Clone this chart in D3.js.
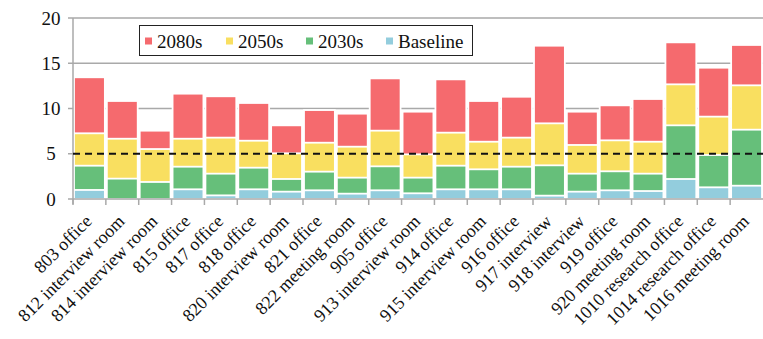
<!DOCTYPE html>
<html>
<head>
<meta charset="utf-8">
<script src="https://cdn.jsdelivr.net/npm/d3@7"></script>
<style>
  html, body { margin: 0; padding: 0; background: #fff; }
  svg { display: block; }
  text { font-family: "Liberation Serif", "Times New Roman", serif; fill: #111; }
</style>
</head>
<body>
<svg id="chart" width="763" height="339"></svg>
<script>
// Rooms along the x axis
const rooms = [
  "803 office", "812 interview room", "814 interview room", "815 office",
  "817 office", "818 office", "820 interview room", "821 office",
  "822 meeting room", "905 office", "913 interview room", "914 office",
  "915 interview room", "916 office", "917 interview", "918 interview",
  "919 office", "920 meeting room", "1010 research office",
  "1014 research office", "1016 meeting room"
];

// Value per room for each climate period
const baseline = [1.0, 0.0, 0.0, 1.07, 0.4, 1.07, 0.81, 0.96, 0.59, 0.96, 0.63,
                  1.07, 1.07, 1.07, 0.37, 0.81, 0.96, 0.88, 2.21, 1.29, 1.47];
const s2030 = [3.68, 2.25, 1.88, 3.57, 2.8, 3.46, 2.21, 3.02, 2.36, 3.61, 2.36,
               3.68, 3.28, 3.57, 3.72, 2.8, 3.06, 2.8, 8.14, 4.86, 7.66];
const s2050 = [7.26, 6.66, 5.52, 6.66, 6.78, 6.44, 5.05, 6.22, 5.78, 7.55, 4.93,
               7.33, 6.33, 6.78, 8.36, 5.97, 6.48, 6.33, 12.67, 9.1, 12.56];
const s2080 = [13.45, 10.83, 7.55, 11.64, 11.35, 10.61, 8.14, 9.83, 9.43, 13.33, 9.65,
               13.22, 10.83, 11.3, 16.94, 9.65, 10.35, 11.05, 17.31, 14.51, 17.02];

const yTicks = [0, 5, 10, 15, 20];
const threshold = 5;

// Series drawn back to front; legend lists them in the same order
const series = [
  { name: "2080s", values: s2080, color: "#f56a6e" },
  { name: "2050s", values: s2050, color: "#f9df60" },
  { name: "2030s", values: s2030, color: "#66bf7a" },
  { name: "Baseline", values: baseline, color: "#93cddd" }
];

const svg = d3.select("#chart");
const plotLeft = 73, plotRight = 763, plotTop = 18, plotBottom = 199;

const x = d3.scaleBand().domain(rooms).range([plotLeft, plotRight]).paddingInner(0).paddingOuter(0);
const y = d3.scaleLinear().domain([0, 20]).range([plotBottom, plotTop]);

// Horizontal gridlines
svg.append("g").selectAll("line")
  .data(yTicks.filter(t => t > 0))
  .join("line")
  .attr("x1", plotLeft).attr("x2", plotRight)
  .attr("y1", d => y(d)).attr("y2", d => y(d))
  .attr("stroke", "#a9a9a9").attr("stroke-width", 1.5);

// Bars: each period drawn from zero, later periods in front
const inset = 1;
series.forEach(s => {
  svg.append("g").selectAll("rect")
    .data(rooms.map((r, i) => ({ room: r, v: s.values[i] })))
    .join("rect")
    .attr("x", d => x(d.room) + inset)
    .attr("width", x.bandwidth() - inset * 2)
    .attr("y", d => y(d.v))
    .attr("height", d => Math.max(0, y(0) - y(d.v)))
    .attr("fill", s.color)
    .attr("stroke", "#fff")
    .attr("stroke-width", 1.8);
});

// Y axis
const yAxis = svg.append("g");
yAxis.append("line")
  .attr("x1", plotLeft).attr("x2", plotLeft).attr("y1", plotTop).attr("y2", plotBottom + 5)
  .attr("stroke", "#a9a9a9").attr("stroke-width", 1.5);
yAxis.selectAll("line.tick")
  .data(yTicks).join("line").attr("class", "tick")
  .attr("x1", plotLeft - 5).attr("x2", plotLeft)
  .attr("y1", d => y(d)).attr("y2", d => y(d))
  .attr("stroke", "#a9a9a9").attr("stroke-width", 1.5);
yAxis.selectAll("text")
  .data(yTicks).join("text")
  .attr("x", 51).attr("y", d => y(d))
  .attr("dy", "0.35em")
  .attr("text-anchor", "middle")
  .attr("font-size", 19)
  .text(d => d);

// X axis
const xAxis = svg.append("g");
xAxis.append("line")
  .attr("x1", plotLeft).attr("x2", plotRight).attr("y1", plotBottom).attr("y2", plotBottom)
  .attr("stroke", "#a9a9a9").attr("stroke-width", 1.5);
xAxis.selectAll("line.tick")
  .data(rooms).join("line").attr("class", "tick")
  .attr("x1", d => x(d)).attr("x2", d => x(d))
  .attr("y1", plotBottom).attr("y2", plotBottom + 6)
  .attr("stroke", "#a9a9a9").attr("stroke-width", 1.5);
xAxis.selectAll("text")
  .data(rooms).join("text")
  .attr("transform", d => `translate(${x(d) + x.bandwidth() / 2 - 1},${plotBottom + 19}) rotate(-45)`)
  .attr("text-anchor", "end")
  .attr("dy", "0.35em")
  .attr("font-size", 18)
  .text(d => d);

// Threshold line
svg.append("line")
  .attr("x1", plotLeft).attr("x2", plotRight)
  .attr("y1", y(threshold)).attr("y2", y(threshold))
  .attr("stroke", "#111").attr("stroke-width", 2)
  .attr("stroke-dasharray", "7,5");

// Legend
const legend = svg.append("g");
legend.append("rect")
  .attr("x", 139.5).attr("y", 25.5).attr("width", 333).attr("height", 30)
  .attr("fill", "#fff").attr("stroke", "#222").attr("stroke-width", 1);
const legendX = [145, 226, 306, 386];
const items = legend.selectAll("g.item")
  .data(series).join("g").attr("class", "item")
  .attr("transform", (d, i) => `translate(${legendX[i]},41)`);
items.append("rect")
  .attr("x", 0).attr("y", -3.5).attr("width", 7).attr("height", 7)
  .attr("fill", d => d.color);
items.append("text")
  .attr("x", 12).attr("y", 0).attr("dy", "0.35em")
  .attr("font-size", 19)
  .text(d => d.name);
</script>
</body>
</html>
